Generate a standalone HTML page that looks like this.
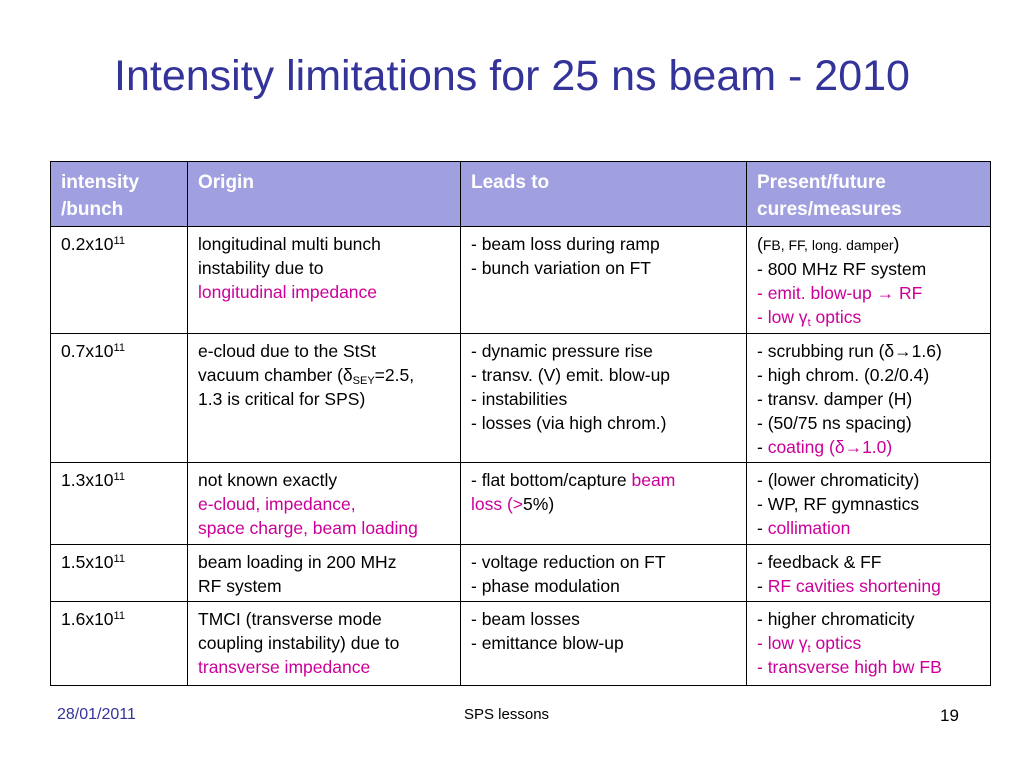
<!DOCTYPE html>
<html><head><meta charset="utf-8"><style>
body{margin:0;width:1024px;height:768px;background:#fff;position:relative;overflow:hidden;font-family:"Liberation Sans","DejaVu Sans",sans-serif}
#title{position:absolute;left:0;width:1024px;top:48px;text-align:center;font-size:43px;color:#333399;line-height:56px}
table{position:absolute;left:50px;top:161px;border-collapse:collapse;table-layout:fixed}
td,th{border:1.5px solid #000;vertical-align:top;padding:5px 10px 0 10px;font-size:17.5px;line-height:24px;white-space:nowrap;text-align:left;color:#000}
th{background:#a0a0e0;color:#fff;font-weight:bold;font-size:19px;line-height:27px;padding-top:7px}
td:first-child,th:first-child{padding-left:10px}
.m{color:#cc0099}.b{color:#333399}
sup{font-size:11px;vertical-align:6px;line-height:0}
sub{font-size:11px;vertical-align:-3px;line-height:0}
.s{font-size:14px}
.foot{position:absolute;top:706px;font-size:16px}
</style></head><body>
<div id="title">Intensity limitations for 25 ns beam - 2010</div>
<table>
<colgroup><col style="width:137px"><col style="width:273px"><col style="width:286px"><col style="width:244px"></colgroup>
<tr style="height:65px"><th>intensity<br>/bunch</th><th>Origin</th><th>Leads to</th><th>Present/future<br>cures/measures</th></tr>
<tr style="height:107px"><td>0.2x10<sup>11</sup></td><td>longitudinal multi bunch<br>instability due to<br><span class="m">longitudinal impedance</span></td><td>- beam loss during ramp<br>- bunch variation on FT</td><td>(<span class="s">FB, FF, long. damper</span>)<br>- 800 MHz RF system<br><span class="m">- emit. blow-up → RF</span><br><span class="m">- low γ<sub>t</sub> optics</span></td></tr>
<tr style="height:129px"><td>0.7x10<sup>11</sup></td><td>e-cloud due to the StSt<br>vacuum chamber (δ<sub>SEY</sub>=2.5,<br>1.3 is critical for SPS)</td><td>- dynamic pressure rise<br>- transv. (V) emit. blow-up<br>- instabilities<br>- losses (via high chrom.)</td><td>- scrubbing run (δ→1.6)<br>- high chrom. (0.2/0.4)<br>- transv. damper (H)<br>- (50/75 ns spacing)<br>- <span class="m">coating (δ→1.0)</span></td></tr>
<tr style="height:82px"><td>1.3x10<sup>11</sup></td><td>not known exactly<br><span class="m">e-cloud, impedance,<br>space charge, beam loading</span></td><td>- flat bottom/capture <span class="m">beam<br>loss (&gt;</span>5%)</td><td>- (lower chromaticity)<br>- WP, RF gymnastics<br>- <span class="m">collimation</span></td></tr>
<tr style="height:57px"><td>1.5x10<sup>11</sup></td><td>beam loading in 200 MHz<br>RF system</td><td>- voltage reduction on FT<br>- phase modulation</td><td>- feedback &amp; FF<br>- <span class="m">RF cavities shortening</span></td></tr>
<tr style="height:84px"><td>1.6x10<sup>11</sup></td><td>TMCI (transverse mode<br>coupling instability) due to<br><span class="m">transverse impedance</span></td><td>- beam losses<br>- emittance blow-up</td><td>- higher chromaticity<br><span class="m">- low γ<sub>t</sub> optics<br>- transverse high bw FB</span></td></tr>
</table>
<div class="foot b" style="left:57px">28/01/2011</div>
<div class="foot" style="left:464px;top:706px;font-size:15px">SPS lessons</div>
<div class="foot" style="left:940px;font-size:17px">19</div>
</body></html>
